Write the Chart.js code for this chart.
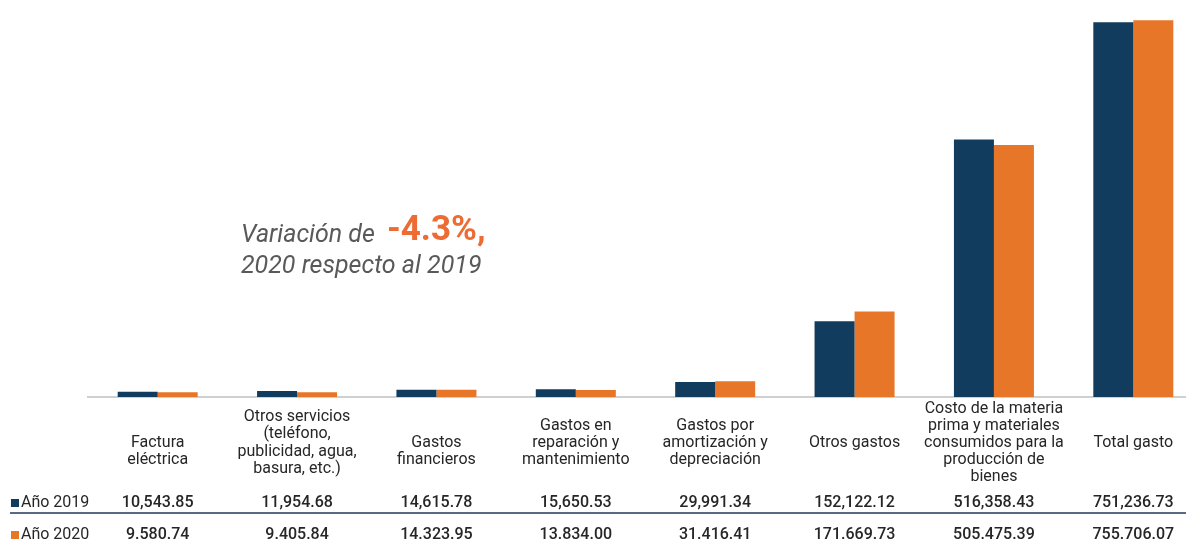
<!DOCTYPE html>
<html>
<head>
<meta charset="utf-8">
<script src="https://cdn.jsdelivr.net/npm/chart.js@4/dist/chart.umd.min.js"></script>
<style>
    body { margin: 0; background: #fff; overflow: hidden; }
    #wrap { width: 1186px; height: 542px; overflow: hidden; }
</style>
</head>
<body>
<div id="wrap"><canvas id="gastosChart" width="1210" height="542"></canvas></div>
<script>
// Categorías (líneas de la etiqueta)
const categorias = [
    ["", "Factura", "eléctrica"],
    ["Otros servicios", "(teléfono,", "publicidad, agua,", "basura, etc.)"],
    ["", "Gastos", "financieros"],
    ["Gastos en", "reparación y", "mantenimiento"],
    ["Gastos por", "amortización y", "depreciación"],
    ["Otros gastos"],
    ["Costo de la materia", "prima y materiales", "consumidos para la", "producción de", "bienes"],
    ["Total gasto"]
];
const anio2019 = [10543.85, 11954.68, 14615.78, 15650.53, 29991.34, 152122.12, 516358.43, 751236.73];
const anio2020 = [9580.74, 9405.84, 14323.95, 13834.00, 31416.41, 171669.73, 505475.39, 755706.07];
const series = ["Año 2019", "Año 2020"];
const colores = ["#123C5E", "#E87629"];

// formato de la tabla (2020 aparece con puntos en el original)
function formato(v, sep) {
    const partes = v.toFixed(2).split(".");
    return partes[0].replace(/\B(?=(\d{3})+(?!\d))/g, sep) + "." + partes[1];
}

// Tabla de datos + nota de variación
const tablaPlugin = {
    id: "tabla",
    afterDraw(chart) {
        const ctx = chart.ctx;
        const x = chart.scales.x;
        const filas = [
            { y: 503, datos: anio2019, sep: ",", color: colores[0], nombre: series[0] },
            { y: 535, datos: anio2020, sep: ".", color: colores[1], nombre: series[1] }
        ];
        ctx.save();
        ctx.textBaseline = "middle";
        filas.forEach(f => {
            ctx.fillStyle = f.color;
            ctx.fillRect(11, f.y - 4, 8, 8);
            ctx.fillStyle = "#262626";
            ctx.textAlign = "left";
            ctx.font = "16px Roboto";
            ctx.fillText(f.nombre, 21, f.y);
            ctx.textAlign = "center";
            ctx.font = "500 16px Roboto";
            f.datos.forEach((v, i) => {
                ctx.fillText(formato(v, f.sep), x.getPixelForValue(i), f.y);
            });
        });
        ctx.strokeStyle = "#1F3A5C";
        ctx.lineWidth = 1.5;
        ctx.beginPath();
        ctx.moveTo(10, 513);
        ctx.lineTo(chart.width, 513);
        ctx.stroke();

        // nota
        ctx.textAlign = "left";
        ctx.textBaseline = "alphabetic";
        ctx.fillStyle = "#595959";
        ctx.font = "italic 25px Roboto";
        ctx.fillText("Variación de", 241, 242);
        ctx.fillStyle = "#EE6B33";
        ctx.font = "bold 35px Roboto";
        ctx.fillText("-4.3%,", 387, 240);
        ctx.fillStyle = "#595959";
        ctx.font = "italic 25px Roboto";
        ctx.fillText("2020 respecto al 2019", 241, 273);
        ctx.restore();
    }
};

new Chart(document.getElementById("gastosChart"), {
    type: "bar",
    data: {
        labels: categorias,
        datasets: [{
            label: series[0],
            data: anio2019,
            backgroundColor: colores[0],
        }, {
            label: series[1],
            data: anio2020,
            backgroundColor: colores[1],
        }],
    },
    options: {
        responsive: false,
        animation: false,
        categoryPercentage: 0.574,
        barPercentage: 1,
        layout: { padding: { top: 18, left: 88, right: 7, bottom: 0 } },
        plugins: {
            legend: { display: false },
            tooltip: { enabled: false },
        },
        scales: {
            x: {
                grid: { display: false },
                border: { color: "#D0D0D0", width: 2 },
                ticks: {
                    color: "#262626",
                    font: { family: "Roboto", size: 16, lineHeight: 1.075 },
                    crossAlign: "center",
                    padding: 3.5,
                    maxRotation: 0,
                    autoSkip: false,
                },
                afterFit(scale) { scale.height = 145; },
            },
            y: {
                display: false,
                min: 0,
                max: 760000,
            },
        },
    },
    plugins: [tablaPlugin],
});
</script>
</body>
</html>
